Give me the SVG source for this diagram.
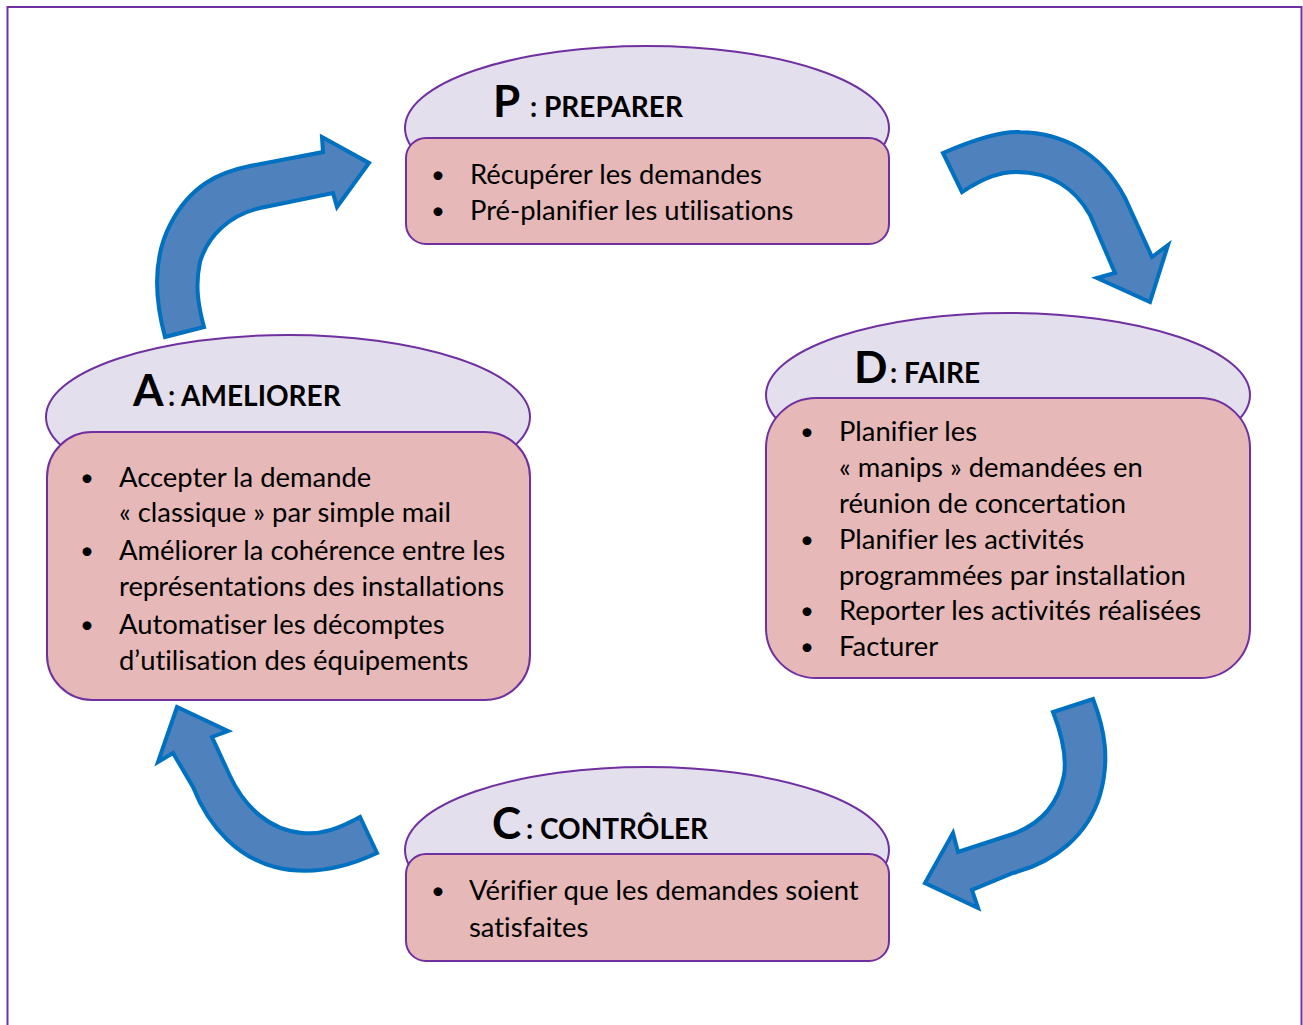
<svg xmlns="http://www.w3.org/2000/svg" width="1303" height="1025" viewBox="0 0 1303 1025">
  <style>
    .frame { fill: none; stroke: #7030A0; stroke-width: 2; }
    .cap { fill: #E4DFEC; stroke: #7030A0; stroke-width: 2; }
    .box { fill: #E6B8B7; stroke: #7030A0; stroke-width: 2; }
    .arrow { fill: #4F81BD; stroke: #0070C0; stroke-width: 4; stroke-linejoin: miter; }
    text { font-family: Lato, "Open Sans", "Liberation Sans", sans-serif; fill: #000; font-variant-ligatures: none; }
    .t { font-size: 27.4px; }
    .b { font-size: 24px; }
    .h { font-size: 28px; font-weight: bold; }
    .big { font-size: 44px; font-weight: bold; }
  </style>

  <rect class="frame" x="7.5" y="7" width="1294" height="1040"/>

  <!-- cycle arrows -->
  <g id="connectors">
    <path class="arrow" d="M 165,337 C 155,300 152,260 170,225 C 190,185 220,172 250,166 L 323,152 L 322,137 L 369,163 L 337,207 L 333,193 L 260,208 C 230,215 208,235 200,262 C 195,285 198,305 204,327 Z"/>
    <path class="arrow" d="M 943,153 C 975,139 1000,131 1020,132 C 1060,133 1100,150 1125,198 L 1152,257 L 1168,245 L 1150,302 L 1097,278 L 1115,273 L 1090,215 C 1075,188 1050,172 1017,172 C 1000,172 985,177 962,192 Z"/>
    <path class="arrow" d="M 1093,699 C 1105,730 1110,760 1100,795 C 1088,835 1055,862 1013,873 L 972,890 L 978,908 L 925,883 L 953,833 L 958,852 L 1010,835 C 1040,825 1058,805 1064,775 C 1067,755 1062,735 1053,712 Z"/>
    <path class="arrow" d="M 377,853 C 345,868 310,876 275,867 C 240,858 210,830 193,787 L 173,753 L 158,762 L 177,707 L 228,731 L 212,737 L 230,776 C 245,808 270,830 302,833 C 322,835 340,828 360,817 Z"/>
  </g>

  <!-- P : PREPARER -->
  <g id="node-p">
    <ellipse class="cap" cx="647" cy="128" rx="242" ry="82"/>
    <rect class="box" x="406" y="138" width="483" height="106" rx="20"/>
    <text y="117"><tspan class="big" x="493">P</tspan> <tspan class="h" x="530">: PREPARER</tspan></text>
    <text class="b" x="431" y="183">•</text>
    <text class="t" x="470" y="184">Récupérer les demandes</text>
    <text class="b" x="431" y="219">•</text>
    <text class="t" x="470" y="220">Pré-planifier les utilisations</text>
  </g>

  <!-- D : FAIRE -->
  <g id="node-d">
    <ellipse class="cap" cx="1008" cy="395" rx="242" ry="82"/>
    <rect class="box" x="766" y="398" width="484" height="280" rx="50"/>
    <text y="383"><tspan class="big" x="854">D</tspan> <tspan class="h" x="890">: FAIRE</tspan></text>
    <text class="b" x="800" y="440">•</text>
    <text class="t" x="839" y="441">Planifier les</text>
    <text class="t" x="839" y="477">« manips » demandées en</text>
    <text class="t" x="839" y="513">réunion de concertation</text>
    <text class="b" x="800" y="548">•</text>
    <text class="t" x="839" y="549">Planifier les activités</text>
    <text class="t" x="839" y="585">programmées par installation</text>
    <text class="b" x="800" y="619">•</text>
    <text class="t" x="839" y="620">Reporter les activités réalisées</text>
    <text class="b" x="800" y="655">•</text>
    <text class="t" x="839" y="656">Facturer</text>
  </g>

  <!-- C : CONTRÔLER -->
  <g id="node-c">
    <ellipse class="cap" cx="647" cy="850" rx="242" ry="83"/>
    <rect class="box" x="406" y="854" width="483" height="107" rx="20"/>
    <text y="839"><tspan class="big" x="492">C</tspan> <tspan class="h" x="526">: CONTRÔLER</tspan></text>
    <text class="b" x="431" y="899">•</text>
    <text class="t" x="469" y="900">Vérifier que les demandes soient</text>
    <text class="t" x="469" y="937">satisfaites</text>
  </g>

  <!-- A : AMELIORER -->
  <g id="node-a">
    <ellipse class="cap" cx="288" cy="417" rx="242" ry="82"/>
    <rect class="box" x="47" y="432" width="483" height="268" rx="45"/>
    <text y="406"><tspan class="big" x="133">A</tspan> <tspan class="h" x="168">: AMELIORER</tspan></text>
    <text class="b" x="80" y="486">•</text>
    <text class="t" x="119" y="487">Accepter la demande</text>
    <text class="t" x="119" y="522">« classique » par simple mail</text>
    <text class="b" x="80" y="559">•</text>
    <text class="t" x="119" y="560">Améliorer la cohérence entre les</text>
    <text class="t" x="119" y="596">représentations des installations</text>
    <text class="b" x="80" y="633">•</text>
    <text class="t" x="119" y="634">Automatiser les décomptes</text>
    <text class="t" x="119" y="670">d’utilisation des équipements</text>
  </g>
</svg>
